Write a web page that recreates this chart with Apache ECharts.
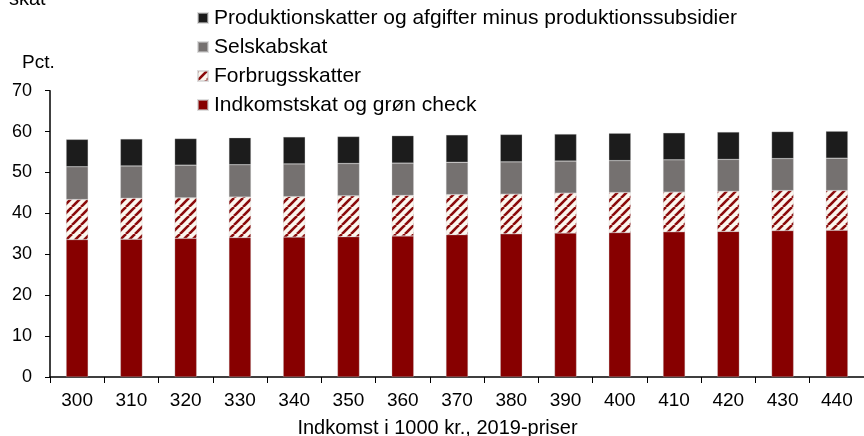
<!DOCTYPE html>
<html>
<head>
<meta charset="utf-8">
<script src="https://cdn.jsdelivr.net/npm/echarts@6/dist/echarts.min.js"></script>
<style>
html,body{margin:0;padding:0;background:#fff;}
#chart{width:864px;height:436px;}
</style>
</head>
<body>
<div id="chart"></div>
<script>
var categories = ['300','310','320','330','340','350','360','370','380','390','400','410','420','430','440'];
var indkomstskat = [33.6,33.7,33.9,34.1,34.2,34.3,34.5,34.8,35.0,35.2,35.3,35.5,35.6,35.8,35.9];
var forbrugsskatter = [9.8,10.0,9.9,9.9,9.9,10.0,9.9,9.8,9.7,9.75,9.8,9.7,9.8,9.8,9.7];
var selskabsskat = [8.0,7.9,8.0,7.9,8.0,7.9,7.9,7.9,7.9,7.85,7.8,7.9,7.8,7.8,7.9];
var produktionsskatter = [6.7,6.6,6.5,6.6,6.6,6.6,6.7,6.7,6.7,6.6,6.7,6.6,6.7,6.6,6.6];
var names = ['Indkomstskat og grøn check','Forbrugsskatter','Selskabskat','Produktionskatter og afgifter minus produktionssubsidier'];
var yTicks = [0,10,20,30,40,50,60,70];

var FONT = '"Liberation Sans", Arial, sans-serif';

function makePattern(){
  var s = 9;
  var c = document.createElement('canvas');
  c.width = s; c.height = s;
  var ctx = c.getContext('2d');
  ctx.fillStyle = '#fbf6ee';
  ctx.fillRect(0,0,s,s);
  ctx.strokeStyle = '#8a0a0a';
  ctx.lineWidth = 2.6;
  for (var k=-1;k<=1;k++){
    ctx.beginPath();
    ctx.moveTo(k*s, s);
    ctx.lineTo(k*s + s, 0);
    ctx.stroke();
  }
  return {image: c, repeat: 'repeat'};
}

var chart = echarts.init(document.getElementById('chart'), null, {renderer:'canvas'});
var barW = 22;
var border = {borderColor:'rgba(200,200,200,0.6)', borderWidth:0.5};
function ser(name, data, color){
  return {
    name: name, type:'bar', stack:'total', data: data, barWidth: barW,
    itemStyle: Object.assign({color: color}, border),
    emphasis:{disabled:true}
  };
}
var option = {
  animation:false,
  grid:{left:50, right:-8, top:90.7, bottom:59, containLabel:false},
  legend:{
    orient:'vertical', left:197, top:7, padding:0,
    itemWidth:10, itemHeight:10, itemGap:7,
    icon:'rect',
    textStyle:{fontFamily:FONT, fontSize:21, color:'#000', lineHeight:22, padding:[0,0,0,1]},
    data:[names[3],names[2],names[1],names[0]]
  },
  xAxis:{
    type:'category', data:categories,
    axisLine:{lineStyle:{color:'#000', width:1.5}},
    axisTick:{show:true, length:6, lineStyle:{color:'#000', width:1}},
    axisLabel:{fontFamily:FONT, fontSize:19, color:'#000', margin:14}
  },
  yAxis:{
    type:'value', min:0, max:70, interval:10,
    axisLine:{show:true, lineStyle:{color:'#000', width:1.5}},
    axisTick:{show:true, length:5, lineStyle:{color:'#000', width:1}},
    splitLine:{show:false},
    axisLabel:{fontFamily:FONT, fontSize:18, color:'#000', margin:18}
  },
  graphic:[
    {type:'text', x:22, y:63, style:{text:'Pct.', font:'19px '+FONT, fill:'#000', verticalAlign:'middle'}},
    {type:'text', x:9, y:-11, style:{text:'skat', font:'20px '+FONT, fill:'#000', verticalAlign:'top'}},
    {type:'text', x:437.5, y:428, style:{text:'Indkomst i 1000 kr., 2019-priser', font:'20px '+FONT, fill:'#000', align:'center', verticalAlign:'middle'}}
  ],
  series:[
    ser(names[0], indkomstskat, '#870000'),
    ser(names[1], forbrugsskatter, makePattern()),
    ser(names[2], selskabsskat, '#757170'),
    ser(names[3], produktionsskatter, '#1c1c1c')
  ]
};
chart.setOption(option);
</script>
</body>
</html>
